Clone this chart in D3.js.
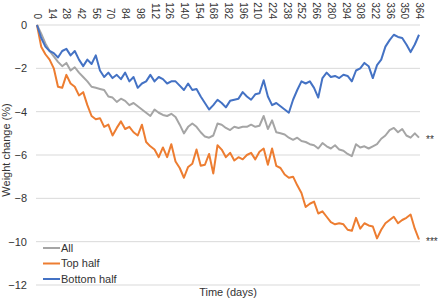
<!DOCTYPE html>
<html>
<head>
<meta charset="utf-8">
<script src="https://cdn.jsdelivr.net/npm/d3@7"></script>
<style>
  body { margin: 0; background: #fff; }
  text { font-family: "Liberation Sans", Arial, sans-serif; fill: #333; }
</style>
</head>
<body>
<script>
// days sampled every 4 days
var days = [0,4,8,12,16,20,24,28,32,36,40,44,48,52,56,60,64,68,72,76,80,84,88,92,96,100,
    104,108,112,116,120,124,128,132,136,140,144,148,152,156,160,164,168,172,176,180,184,188,
    192,196,200,204,208,212,216,220,224,228,232,236,240,244,248,252,256,260,264,268,272,276,
    280,284,288,292,296,300,304,308,312,316,320,324,328,332,336,340,344,348,352,356,360,364];

var allVals = [0,-0.4,-0.85,-1.2,-1.45,-1.7,-1.9,-1.75,-2.1,-1.95,-2.2,-2.4,-2.6,-2.85,-2.9,-2.95,
    -3.0,-3.3,-3.35,-3.55,-3.4,-3.5,-3.7,-3.6,-3.75,-3.9,-4.05,-4.2,-3.9,-4.05,-4.15,-4.2,-4.1,
    -4.25,-4.6,-5.0,-4.7,-4.55,-4.7,-4.95,-5.15,-5.2,-5.1,-4.55,-4.6,-4.75,-4.85,-4.7,-4.75,-4.7,
    -4.7,-4.6,-4.7,-4.65,-4.2,-4.8,-4.4,-4.95,-5.0,-5.05,-5.2,-5.3,-5.2,-5.35,-5.4,-5.5,-5.55,
    -5.7,-5.45,-5.6,-5.7,-5.55,-5.75,-5.8,-5.95,-6.05,-5.5,-5.65,-5.6,-5.7,-5.6,-5.5,-5.25,-5.1,
    -4.85,-4.75,-4.95,-4.8,-5.1,-5.2,-5.0,-5.2];

var topVals = [0,-1.0,-1.35,-1.6,-2.0,-2.85,-2.9,-2.3,-2.7,-2.85,-3.25,-3.1,-3.7,-4.2,-4.35,-4.3,
    -4.7,-4.6,-5.1,-4.75,-4.45,-4.8,-4.7,-4.95,-5.1,-4.6,-5.4,-5.6,-5.75,-6.1,-5.65,-6.1,-5.5,
    -6.3,-6.6,-7.05,-6.55,-6.4,-5.75,-6.5,-6.45,-5.95,-6.85,-5.55,-5.75,-6.1,-5.9,-6.25,-6.1,-6.2,
    -6.0,-5.9,-6.2,-5.85,-5.7,-6.45,-5.7,-6.5,-6.6,-6.9,-7.05,-7.0,-7.4,-7.75,-8.4,-8.25,-8.15,
    -8.7,-8.6,-8.85,-9.1,-9.2,-9.15,-9.2,-9.45,-9.5,-8.9,-9.4,-9.15,-9.25,-9.3,-9.85,-9.45,-9.15,
    -9.0,-8.85,-9.15,-9.0,-8.9,-8.75,-9.4,-9.9];

var bottomVals = [0,-0.6,-1.0,-1.2,-1.3,-1.5,-1.2,-1.1,-1.4,-1.2,-1.6,-1.9,-1.6,-1.8,-1.4,-2.1,
    -2.4,-2.2,-2.45,-2.3,-2.5,-2.2,-2.6,-2.4,-2.9,-2.7,-2.6,-2.3,-2.6,-2.4,-2.5,-2.7,-2.6,-2.6,
    -2.8,-3.0,-2.7,-3.0,-2.95,-3.3,-3.6,-3.9,-3.7,-3.45,-3.6,-3.8,-3.5,-3.45,-3.4,-3.1,-3.3,-3.45,
    -3.2,-3.15,-2.55,-3.3,-3.7,-3.6,-3.75,-3.9,-4.05,-3.45,-3.0,-2.6,-2.7,-2.6,-2.9,-3.35,-2.45,
    -2.2,-2.4,-2.35,-2.45,-2.3,-2.35,-2.6,-2.1,-2.0,-1.75,-1.9,-2.45,-1.85,-1.6,-1.0,-0.7,-0.45,
    -0.55,-0.6,-0.9,-1.25,-0.9,-0.45];

var seriesNames = ["All", "Top half", "Bottom half"];
var seriesColors = ["#a5a5a5", "#ed7d31", "#4472c4"];
var seriesMarks = ["**", "***", ""];

var xTicks = [0,14,28,42,56,70,84,98,112,126,140,154,168,182,196,210,224,238,252,266,280,294,
    308,322,336,350,364];
var yTicks = [0,-2,-4,-6,-8,-10,-12];

var margin = {top: 25, right: 20, bottom: 15, left: 36};
var width = 384;
var height = 260;

var svg = d3.select("body")
    .append("svg")
        .attr("width", 440)
        .attr("height", 300);

var g = svg.append("g")
    .attr("transform", "translate(" + margin.left + ", " + margin.top + ")");

var x = d3.scaleLinear()
    .domain([0, 364])
    .range([1, 383]);

var y = d3.scaleLinear()
    .domain([-12, 0])
    .range([height, 0]);

// gridlines
g.selectAll(".grid")
    .data(yTicks)
    .enter()
    .append("line")
        .attr("class", "grid")
        .attr("x1", 0)
        .attr("x2", width)
        .attr("y1", (d) => y(d))
        .attr("y2", (d) => y(d))
        .attr("stroke", "#d9d9d9")
        .attr("stroke-width", 1);

// left axis (labels only)
var leftAxis = d3.axisLeft(y).tickValues(yTicks).tickSize(0).tickPadding(9);
var ly = g.append("g")
    .attr("class", "left axis")
    .call(leftAxis);
ly.select(".domain").remove();
ly.selectAll("text").attr("font-size", "11px").style("fill", "#333");

// top axis with rotated labels
var topAxis = d3.axisTop(x).tickValues(xTicks).tickSize(0).tickPadding(6);
var tx = g.append("g")
    .attr("class", "top axis")
    .call(topAxis);
tx.select(".domain").remove();
tx.selectAll("text")
    .attr("font-size", "10px")
    .attr("transform", "rotate(90)")
    .attr("x", -6)
    .attr("y", 0)
    .attr("dy", "0.35em")
    .attr("text-anchor", "end")
    .style("fill", "#333");

// lines
var seriesData = [allVals, topVals, bottomVals];
var line = d3.line()
    .x((d, i) => x(days[i]))
    .y((d) => y(d));

g.selectAll(".series")
    .data(seriesData)
    .enter()
    .append("path")
        .attr("class", "series")
        .attr("d", (d) => line(d))
        .attr("fill", "none")
        .attr("stroke", (d, i) => seriesColors[i])
        .attr("stroke-width", 2)
        .attr("stroke-linejoin", "round");

// significance marks at line ends
g.selectAll(".mark")
    .data(seriesData)
    .enter()
    .append("text")
        .attr("class", "mark")
        .attr("x", width + 6)
        .attr("y", (d) => y(d[d.length - 1]) + 5)
        .attr("font-size", "10px")
        .text((d, i) => seriesMarks[i]);

// legend
var legend = g.selectAll(".legend")
    .data(seriesNames)
    .enter()
    .append("g")
        .attr("class", "legend")
        .attr("transform", (d, i) => "translate(7, " + (223 + i * 15.5) + ")");

legend.append("line")
    .attr("x1", 0)
    .attr("x2", 17)
    .attr("stroke", (d, i) => seriesColors[i])
    .attr("stroke-width", 2);

legend.append("text")
    .attr("x", 18)
    .attr("dy", "0.35em")
    .attr("font-size", "11px")
    .text((d) => d);

g.append("text")
    .attr("class", "x axis-label")
    .attr("x", 192)
    .attr("y", height + 11)
    .attr("font-size", "11px")
    .attr("text-anchor", "middle")
    .text("Time (days)");

g.append("text")
    .attr("class", "y axis-label")
    .attr("x", -(height / 2) + 5)
    .attr("y", -26)
    .attr("font-size", "11px")
    .attr("text-anchor", "middle")
    .attr("transform", "rotate(-90)")
    .text("Weight change (%)");
</script>
</body>
</html>
